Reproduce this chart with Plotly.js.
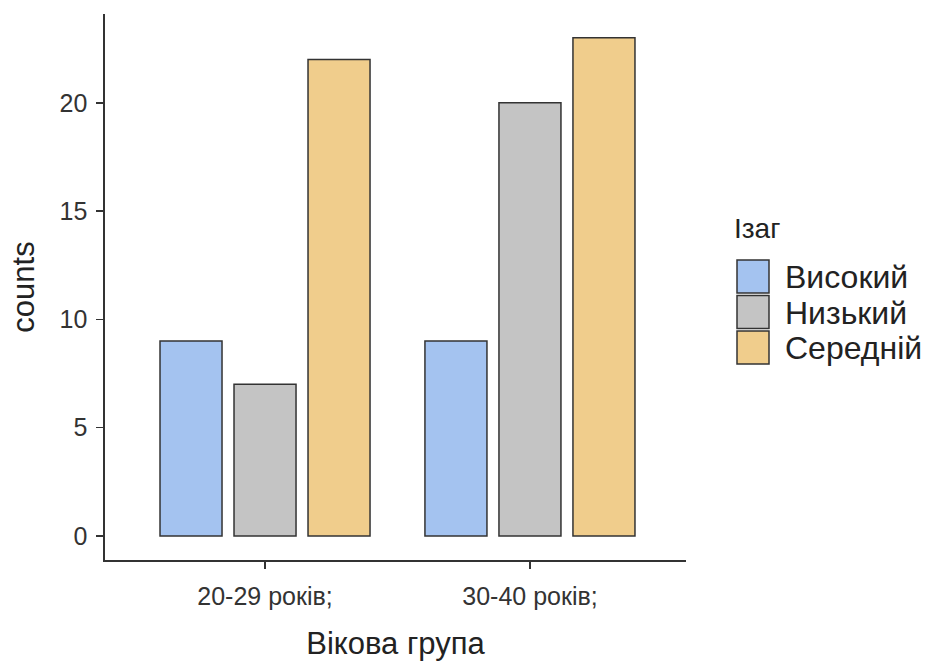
<!DOCTYPE html>
<html>
<head>
<meta charset="utf-8">
<script src="https://cdn.plot.ly/plotly-3.0.1.min.js"></script>
<style>html,body{margin:0;padding:0;background:#fff;}#chart{width:928px;height:661px;}</style>
</head>
<body>
<div id="chart"></div>
<script>
// Data
const categories = ["20-29 років;", "30-40 років;"];
const seriesNames = ["Високий", "Низький", "Середній"];
const seriesColors = ["#A4C3F0", "#C4C4C4", "#F0CD8C"];
const vysokyi = [9, 9];
const nyzkyi = [7, 20];
const serednii = [22, 23];
const seriesValues = [vysokyi, nyzkyi, serednii];
const yTickVals = [0, 5, 10, 15, 20];
const legendTitle = "Ізаг";
const xTitle = "Вікова група";
const yTitle = "counts";

const W = 928, H = 661;
const M = {l: 105, r: 242, t: 14, b: 101};
const PW = W - M.l - M.r, PH = H - M.t - M.b;
function px(x) { return (x - M.l) / PW; }
function py(y) { return (H - M.b - y) / PH; }

const FONT = "Liberation Sans, Arial, sans-serif";
const traces = seriesNames.map((name, i) => ({
  type: "bar",
  name: name,
  x: categories,
  y: seriesValues[i],
  marker: {color: seriesColors[i], line: {color: "#333333", width: 1.5}},
  showlegend: false,
  hoverinfo: "x+y+name"
}));

const shapes = [];
const annotations = [];
annotations.push({
  xref: "paper", yref: "paper", x: px(732), y: py(228), xanchor: "left", yanchor: "middle",
  text: legendTitle, showarrow: false, font: {family: FONT, size: 28, color: "#222222"}
});
seriesNames.forEach((name, i) => {
  const top = 260 + i * 35.5;
  shapes.push({
    type: "rect", xref: "paper", yref: "paper",
    x0: px(737), x1: px(769), y0: py(top), y1: py(top + 33),
    fillcolor: seriesColors[i], line: {color: "#333333", width: 1.5}
  });
  annotations.push({
    xref: "paper", yref: "paper", x: px(783), y: py(top + 17), xanchor: "left", yanchor: "middle",
    text: name, showarrow: false, font: {family: FONT, size: 32, color: "#222222"}
  });
});

const layout = {
  width: W, height: H,
  margin: M,
  paper_bgcolor: "#ffffff", plot_bgcolor: "#ffffff",
  barmode: "group", bargap: 0.162, bargroupgap: 0.162,
  showlegend: false,
  font: {family: FONT, color: "#333333"},
  xaxis: {
    type: "category", range: [-0.604, 1.589],
    showline: true, linecolor: "#333333", linewidth: 1.6,
    ticks: "outside", ticklen: 7, tickwidth: 1.6, tickcolor: "#333333",
    tickfont: {family: FONT, size: 25, color: "#333333"},
    ticklabelstandoff: 6,
    showgrid: false, zeroline: false,
    title: {text: xTitle, font: {family: FONT, size: 31, color: "#222222"}, standoff: 26}
  },
  yaxis: {
    range: [-1.11, 24.1],
    tickvals: yTickVals, ticktext: yTickVals.map(String),
    showline: true, linecolor: "#333333", linewidth: 1.6,
    ticks: "outside", ticklen: 7, tickwidth: 1.6, tickcolor: "#333333",
    tickfont: {family: FONT, size: 25, color: "#333333"},
    ticklabelstandoff: 4,
    showgrid: false, zeroline: false,
    title: {text: yTitle, font: {family: FONT, size: 31, color: "#222222"}, standoff: 16}
  },
  shapes: shapes,
  annotations: annotations
};

Plotly.newPlot("chart", traces, layout, {displayModeBar: false, staticPlot: true});
</script>
</body>
</html>
